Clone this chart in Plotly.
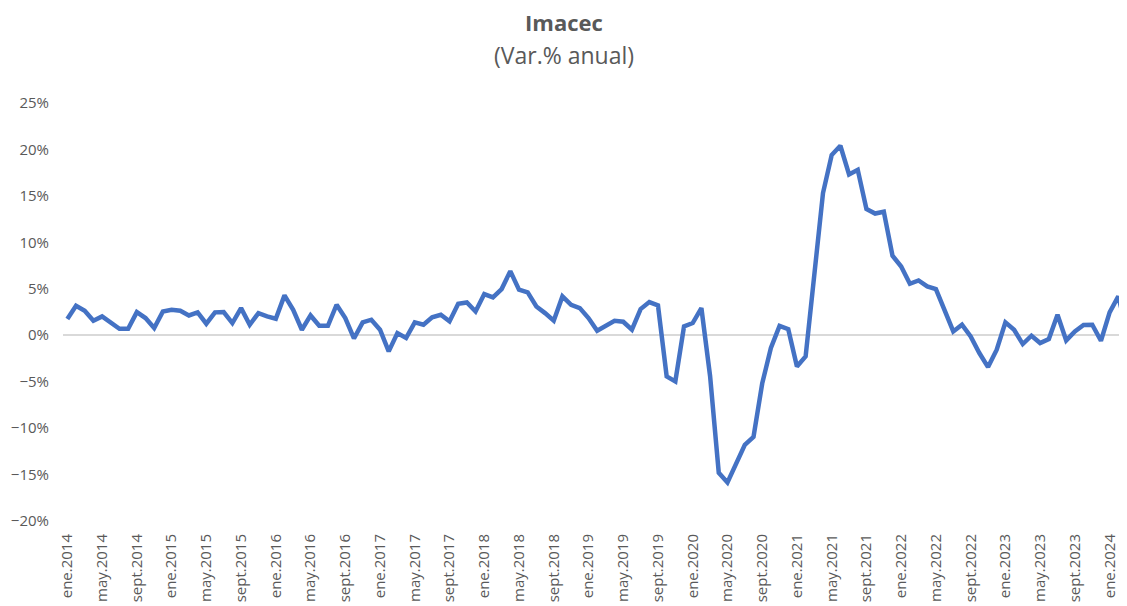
import plotly.graph_objects as go

# Imacec, variación % anual (mensual, ene.2014 - mar.2024)
month_names = ['ene', 'feb', 'mar', 'abr', 'may', 'jun',
               'jul', 'ago', 'sept', 'oct', 'nov', 'dic']
years = list(range(2014, 2025))

imacec = [
    1.74, 3.17, 2.63, 1.56, 2.03, 1.38, 0.70, 0.70, 2.49, 1.85, 0.77, 2.56,    # 2014
    2.74, 2.63, 2.13, 2.46, 1.24, 2.46, 2.49, 1.31, 2.92, 1.13, 2.38, 2.03,    # 2015
    1.78, 4.29, 2.74, 0.59, 2.13, 1.02, 1.02, 3.28, 1.85, -0.35, 1.38, 1.67,   # 2016
    0.59, -1.74, 0.23, -0.30, 1.38, 1.13, 1.92, 2.20, 1.49, 3.39, 3.53, 2.56,  # 2017
    4.43, 4.07, 4.97, 6.90, 4.90, 4.61, 3.10, 2.38, 1.56, 4.18, 3.28, 2.92,    # 2018
    1.85, 0.48, 1.02, 1.56, 1.45, 0.59, 2.82, 3.57, 3.21, -4.43, -4.97, 0.95,  # 2019
    1.31, 2.92, -4.40, -14.80, -15.85, -13.90, -11.80, -10.95, -5.20, -1.38, 1.00, 0.65,  # 2020
    -3.36, -2.28, 7.05, 15.30, 19.40, 20.40, 17.30, 17.80, 13.60, 13.10, 13.30, 8.56,  # 2021
    7.40, 5.54, 5.90, 5.26, 4.97, 2.74, 0.41, 1.13, -0.13, -1.92, -3.43, -1.56,  # 2022
    1.38, 0.59, -0.95, -0.05, -0.84, -0.41, 2.20, -0.56, 0.41, 1.10, 1.13, -0.60,  # 2023
    2.45, 4.18, 0.40,                                                          # 2024
]

labels = [m + '.' + str(y) for y in years for m in month_names][:len(imacec)]
tick_labels = labels[::4]

grey = '#595959'
font_name = 'Open Sans'

fig = go.Figure()
fig.add_trace(go.Scatter(
    x=labels, y=imacec,
    mode='lines',
    line=dict(color='#4472C4', width=4.5),
    hovertemplate='%{x}: %{y:.1f}%<extra></extra>',
))

fig.update_xaxes(
    type='category',
    tickmode='array', tickvals=tick_labels, ticktext=tick_labels,
    tickangle=-90,
    range=[-0.5, len(imacec) - 1],
    showgrid=False, showline=False, zeroline=False,
    ticks='', ticklabelstandoff=9,
    tickfont=dict(family=font_name, size=15, color=grey),
)
fig.update_yaxes(
    range=[-20, 25], dtick=5,
    ticksuffix='%',
    showgrid=False, showline=False,
    zeroline=True, zerolinecolor='#D9D9D9', zerolinewidth=1.5,
    ticks='', ticklabelstandoff=13,
    tickfont=dict(family=font_name, size=15, color=grey),
)

# titles as two annotations so the line spacing matches
fig.add_annotation(text='<b>Imacec</b>', xref='paper', yref='paper',
                   x=0.471, y=1.0, yshift=81, xanchor='center', yanchor='middle',
                   showarrow=False, font=dict(family=font_name, size=22, color=grey))
fig.add_annotation(text='(Var.% anual)', xref='paper', yref='paper',
                   x=0.471, y=1.0, yshift=48, xanchor='center', yanchor='middle',
                   showarrow=False, font=dict(family=font_name, size=23, color=grey))

# page body has an 8px margin, so the figure is sized/placed to compensate
fig.update_layout(
    width=1119, height=598,
    margin=dict(l=55, r=0, t=95, b=85),
    paper_bgcolor='white', plot_bgcolor='white',
    showlegend=False,
    font=dict(family=font_name, color=grey),
)

fig.write_html("out.html")
